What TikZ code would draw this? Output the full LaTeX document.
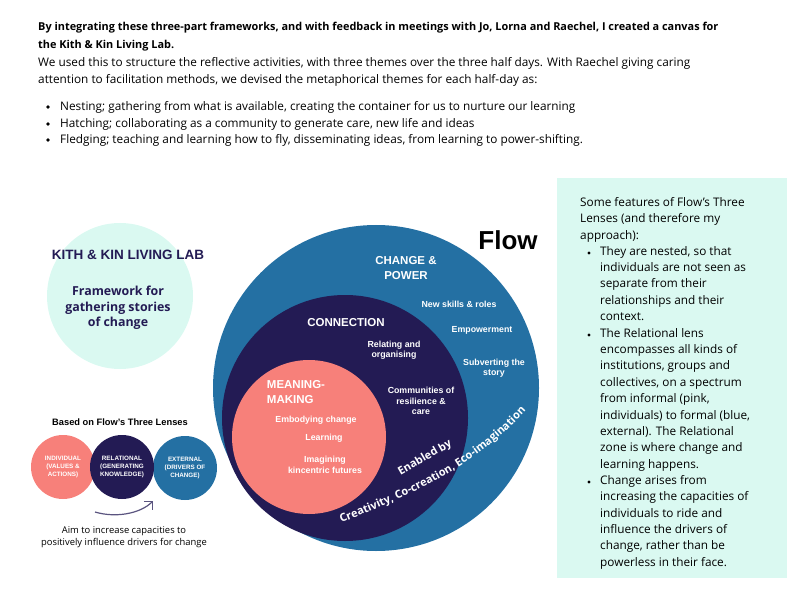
\documentclass[tikz,border=0pt]{standalone}
\usepackage{fontspec}
\setmainfont{Open Sans}
\newfontfamily\boldsans{Liberation Sans}
\usetikzlibrary{arrows.meta, decorations.text}
\definecolor{flowblue}{RGB}{36,112,163}
\definecolor{flownavy}{RGB}{35,27,84}
\definecolor{flowpink}{RGB}{247,128,122}
\definecolor{flowteal}{RGB}{218,249,241}
\tikzstyle{lens} = [circle, inner sep=0pt]
\tikzstyle{lbl} = [text=white, font=\boldsans\bfseries\fontsize{8.8}{10.5}\selectfont, align=center]
\tikzstyle{head} = [text=white, font=\boldsans\bfseries\fontsize{11.5}{15}\selectfont, align=center]
\tikzstyle{small} = [circle, inner sep=0pt, minimum size=64pt]
\tikzstyle{tiny} = [text=white, font=\boldsans\bfseries\fontsize{6.3}{8.4}\selectfont, align=center]
\tikzstyle{para} = [anchor=north west, inner sep=0pt, align=left, font=\fontsize{11.8}{16.4}\selectfont]
\tikzstyle{hdr} = [anchor=base west, inner sep=0pt, font=\fontsize{11.8}{12}\selectfont]
\begin{document}
\begin{tikzpicture}[x=1pt, y=-1pt]
    \useasboundingbox (0,0) rectangle (792,612);

    % Intro text
    \node[hdr, font=\fontsize{10.9}{12}\selectfont\bfseries] (t1) at (38,31) {By integrating these three-part frameworks, and with feedback in meetings with Jo, Lorna and Raechel, I created a canvas for};
    \node[hdr, font=\fontsize{10.9}{12}\selectfont\bfseries] (t2) at (38,49) {the Kith \& Kin Living Lab.};
    \node[hdr] (t3) at (38,67) {We used this to structure the reflective activities, with three themes over the three half days. With Raechel giving caring};
    \node[hdr] (t4) at (38,84) {attention to facilitation methods, we devised the metaphorical themes for each half-day as:};
    \node[hdr] (t5) at (60,111) {Nesting; gathering from what is available, creating the container for us to nurture our learning};
    \node[hdr] (t6) at (60,128) {Hatching; collaborating as a community to generate care, new life and ideas};
    \node[hdr] (t7) at (60,144) {Fledging; teaching and learning how to fly, disseminating ideas, from learning to power-shifting.};
    \foreach \y in {107,124,140} \fill (48,\y) circle (1.8pt);

    % Side panel
    \fill[flowteal] (557,178) rectangle (787,578);
    \node[para] (p0) at (580,197) {Some features of Flow’s Three\\Lenses (and therefore my\\approach):};
    \node[para] (p1) at (600,246) {They are nested, so that\\individuals are not seen as\\separate from their\\relationships and their\\context.};
    \node[para] (p2) at (600,328) {The Relational lens\\encompasses all kinds of\\institutions, groups and\\collectives, on a spectrum\\from informal (pink,\\individuals) to formal (blue,\\external). The Relational\\zone is where change and\\learning happens.};
    \node[para] (p3) at (600,475) {Change arises from\\increasing the capacities of\\individuals to ride and\\influence the drivers of\\change, rather than be\\powerless in their face.};
    \foreach \y in {253,335,482} \fill (589,\y) circle (1.6pt);

    % Kith & Kin
    \node[lens, fill=flowteal, minimum size=146pt] (kk) at (120,296) {};
    \node[text=flownavy, font=\boldsans\bfseries\fontsize{13.5}{15}\selectfont] (kkt) at (128,255) {KITH \& KIN LIVING LAB};
    \node[text=flownavy, font=\bfseries\fontsize{12.4}{15.5}\selectfont, align=center] (kkf) at (118,308) {Framework for\\gathering stories\\of change};

    % Three lenses
    \node[font=\boldsans\bfseries\fontsize{9.3}{10}\selectfont] (based) at (120,422) {Based on Flow’s Three Lenses};
    \node[small, fill=flowpink] (ind) at (63,467) {};
    \node[small, fill=flowblue] (ext) at (185,468) {};
    \node[small, fill=flownavy] (rel) at (122,467) {};
    \node[tiny] at (ind) {INDIVIDUAL\\(VALUES \&\\ACTIONS)};
    \node[tiny] at (rel) {RELATIONAL\\(GENERATING\\KNOWLEDGE)};
    \node[tiny] at (ext) {EXTERNAL\\(DRIVERS OF\\CHANGE)};
    \coordinate (a1) at (95,512);
    \coordinate (a2) at (153,501);
    \draw[flownavy!75, line width=1.2pt, -{Straight Barb[length=6pt]}] (a1) .. controls (115,518) and (140,514) .. (a2);
    \node[font=\fontsize{9.4}{12}\selectfont, align=center] (aim) at (124,537) {Aim to increase capacities to\\positively influence drivers for change};

    % Flow circles
    \node[lens, fill=flowblue, minimum size=326pt] (cp) at (376,388) {};
    \node[lens, fill=flownavy, minimum size=246pt] (cn) at (345,418) {};
    \node[lens, fill=flowpink, minimum size=154pt] (mm) at (309,437) {};
    \node[font=\boldsans\bfseries\fontsize{26}{28}\selectfont] (flow) at (508,240) {Flow};

    \node[head] (cph) at (406,268) {CHANGE \&\\POWER};
    \node[lbl] at (459,304) {New skills \& roles};
    \node[lbl] at (482,330) {Empowerment};
    \node[lbl] at (494,368) {Subverting the\\story};

    \node[head] (cnh) at (346,323) {CONNECTION};
    \node[lbl] at (394,350) {Relating and\\organising};
    \node[lbl] at (421,401) {Communities of\\resilience \&\\care};

    \node[head, align=left] (mmh) at (296,392) {MEANING-\\MAKING};
    \node[lbl] at (316,420) {Embodying change};
    \node[lbl] at (324,438) {Learning};
    \node[lbl] at (325,465) {Imagining\\kincentric futures};

    \node[text=white, font=\fontsize{11}{12}\selectfont\bfseries, rotate=30] (enb) at (425,458) {Enabled by};
    \path[decorate, decoration={text along path, text align=center, text color=white,
        text={|\fontsize{11}{12}\selectfont\bfseries|Creativity, Co-creation, Eco-imagination}}]
        (333,526) .. controls (400,500) and (475,470) .. (532,404);
\end{tikzpicture}
\end{document}
